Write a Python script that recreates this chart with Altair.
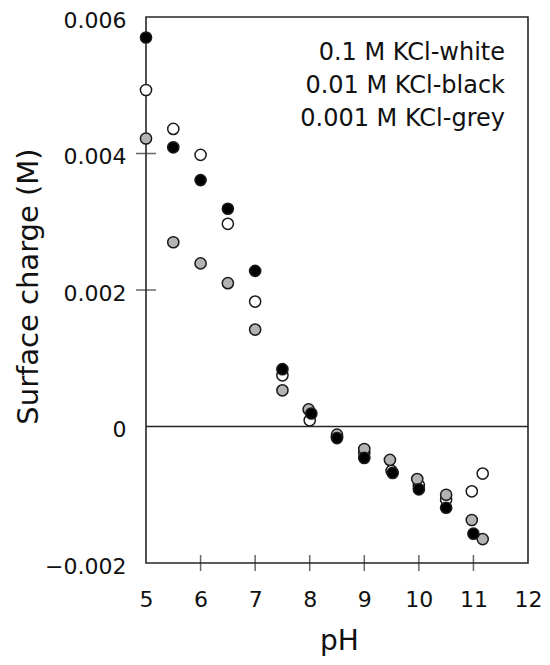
import altair as alt
import pandas as pd

# ---- data ----
ph_white = [5, 5.5, 6, 6.5, 7, 7.5, 8, 8.5, 9, 9.5, 10, 10.5, 10.97, 11.17]
q_white = [0.00493, 0.00436, 0.00398, 0.00297, 0.00183, 0.00075, 0.00009,
           -0.00015, -0.00039, -0.00065, -0.00086, -0.00107, -0.00095, -0.00069]

ph_black = [5, 5.5, 6, 6.5, 7, 7.5, 8.03, 8.5, 9, 9.52, 10, 10.5, 11]
q_black = [0.00570, 0.00409, 0.00361, 0.00319, 0.00228, 0.00084, 0.00019,
           -0.00017, -0.00046, -0.00068, -0.00092, -0.00119, -0.00157]

ph_grey = [5, 5.5, 6, 6.5, 7, 7.5, 7.98, 8.5, 9, 9.47, 9.97, 10.5, 10.97, 11.17]
q_grey = [0.00422, 0.00270, 0.00239, 0.00210, 0.00142, 0.00053, 0.00025,
          -0.00012, -0.00033, -0.00049, -0.00077, -0.00100, -0.00137, -0.00165]

x_ticks = [5, 6, 7, 8, 9, 10, 11, 12]
y_ticks = [-0.002, 0, 0.002, 0.004, 0.006]
x_inner_ticks = [6, 7, 8, 9, 10, 11]
y_inner_ticks = [0.002, 0.004]
zero_line = [0]
legend_lines = ["0.1 M KCl-white", "0.01 M KCl-black", "0.001 M KCl-grey"]

W, H = 382, 546
FONT = "DejaVu Sans"
INK = "#262626"

xs = alt.Scale(domain=[5, 12], nice=False, zero=False)
ys = alt.Scale(domain=[-0.002, 0.006], nice=False, zero=False)

x_axis = alt.Axis(values=x_ticks, title="pH", grid=False, domain=False,
                  ticks=False, tickSize=0, format="d", labelFont=FONT,
                  labelFontSize=22, labelColor="#111",
                  labelBaseline="alphabetic", labelPadding=43,
                  titleFont=FONT, titleFontSize=28, titleFontWeight="normal",
                  titleColor="#111", titleBaseline="alphabetic",
                  titleX=193, titleY=86, labelFlush=False)
y_axis = alt.Axis(values=y_ticks, title="Surface charge (M)", grid=False,
                  domain=False, ticks=False, tickSize=0, labelFont=FONT,
                  labelFontSize=22, labelColor="#111", labelPadding=20,
                  labelBaseline="middle", labelOffset=3, labelFlush=False,
                  labelExpr="datum.value == 0 ? '0' : format(datum.value, '.3f')",
                  titleFont=FONT, titleFontSize=29, titleFontWeight="normal",
                  titleColor="#111", titleBaseline="alphabetic",
                  titleX=-109, titleY=269, titleAngle=270)


def series(ph, q, fill):
    df = pd.DataFrame({"pH": ph, "q": q})
    return alt.Chart(df).mark_circle(size=125, fill=fill, stroke="#1a1a1a",
                                     strokeWidth=1.5, opacity=1).encode(
        x=alt.X("pH:Q", scale=xs, axis=x_axis),
        y=alt.Y("q:Q", scale=ys, axis=y_axis),
    )


zero = alt.Chart(pd.DataFrame({"v": zero_line})).mark_rule(
    color=INK, strokeWidth=1.5).encode(y=alt.Y("v:Q", scale=ys))

xt = alt.Chart(pd.DataFrame({"tx": x_inner_ticks})).mark_tick(
    color=INK, thickness=1.5, size=16, orient="vertical").encode(
    x=alt.X("tx:Q", scale=xs), y=alt.value(H))

yt = alt.Chart(pd.DataFrame({"ty": y_inner_ticks})).mark_tick(
    color=INK, thickness=1.5, size=20, orient="horizontal").encode(
    y=alt.Y("ty:Q", scale=ys), x=alt.value(0))

legend = alt.Chart(pd.DataFrame({"k": [0]})).mark_text(
    align="right", baseline="alphabetic", font=FONT, fontSize=24,
    lineHeight=33.3, color="#111").encode(
    x=alt.value(359), y=alt.value(42.5), text=alt.value(legend_lines))

chart = alt.layer(
    zero, xt, yt,
    series(ph_white, q_white, "#ffffff"),
    series(ph_grey, q_grey, "#b3b3b3"),
    series(ph_black, q_black, "#000000"),
    legend,
).properties(
    width=W, height=H,
    autosize=alt.AutoSizeParams(type="none"),
    padding={"left": 138, "top": 9, "right": 14, "bottom": 94},
).configure(background="white").configure_view(stroke=INK, strokeWidth=1.6)

chart.save("out.html", embed_options={"renderer": "svg", "actions": False})
